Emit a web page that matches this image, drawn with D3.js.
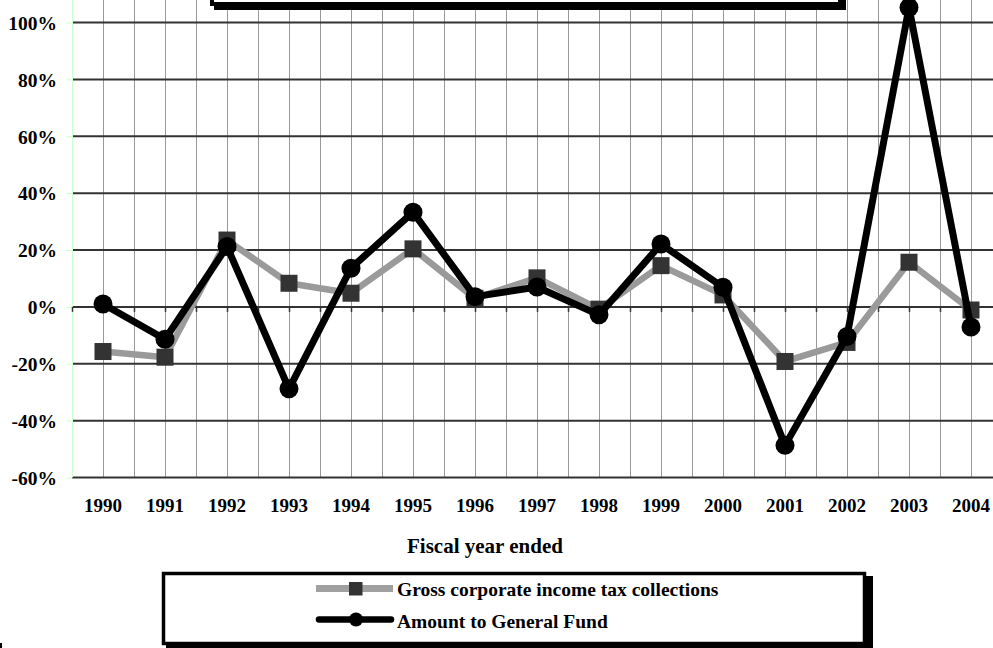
<!DOCTYPE html>
<html>
<head>
<meta charset="utf-8">
<script src="https://cdn.jsdelivr.net/npm/d3@7/dist/d3.min.js"></script>
<style>
  html, body { margin: 0; padding: 0; background: #fff; }
  svg { display: block; }
  svg text { font-family: "Liberation Serif", "Tinos", "Times New Roman", "Nimbus Roman", "DejaVu Serif", serif !important; font-weight: bold !important; fill: #000; }
</style>
</head>
<body>
<svg id="chart" width="993" height="648" font-family="Liberation Serif, Times New Roman, serif"></svg>
<script>
const years = ["1990","1991","1992","1993","1994","1995","1996","1997","1998","1999","2000","2001","2002","2003","2004"];
const grossCollections = [-15.7, -17.7, 23.5, 8.3, 4.8, 20.4, 3.0, 10.2, -0.8, 14.5, 4.2, -19.2, -12.5, 15.7, -1.1];
const generalFund = [1.0, -11.4, 21.2, -28.8, 13.6, 33.3, 3.6, 7.0, -2.8, 22.1, 6.9, -48.7, -10.4, 105.3, -7.1];
const yTicks = [-60, -40, -20, 0, 20, 40, 60, 80, 100];
const seriesNames = ["Gross corporate income tax collections", "Amount to General Fund"];
const xTitle = "Fiscal year ended";

const FONT = "'Liberation Serif', 'Tinos', 'Times New Roman', 'DejaVu Serif', serif";
const svg = d3.select("#chart");
const left = 72, right = 1002, yBottom = 477.5, yTop = 22.5;

const x = d3.scaleBand().domain(years).range([left, right]).paddingInner(0).paddingOuter(0);
const bw = x.bandwidth();
const cx = d => x(d) + bw / 2;
const y = d3.scaleLinear().domain([-60, 100]).range([yBottom, yTop]);

// vertical gridlines (band edges and centers)
const vlines = [];
years.forEach(yr => { vlines.push(x(yr)); vlines.push(cx(yr)); });
vlines.push(right);
svg.append("g").selectAll("line").data(vlines.filter(v => v > left)).join("line")
  .attr("x1", d => d + 0.5).attr("x2", d => d + 0.5)
  .attr("y1", -40).attr("y2", yBottom)
  .attr("stroke", "#999").attr("stroke-width", 1);

// Title box remnant at top (with shadow)
svg.append("rect").attr("x", 214).attr("y", -60).attr("width", 632).attr("height", 70).attr("fill", "#000");
svg.append("rect").attr("x", 212).attr("y", -60).attr("width", 628).attr("height", 64)
  .attr("fill", "#fff").attr("stroke", "#000").attr("stroke-width", 4);

// horizontal gridlines
svg.append("g").selectAll("line").data(yTicks).join("line")
  .attr("x1", left).attr("x2", right)
  .attr("y1", d => y(d)).attr("y2", d => y(d))
  .attr("stroke", "#333").attr("stroke-width", 2);

// y axis (light green) with ticks
const yAxis = d3.axisLeft(y).tickValues(yTicks).tickSize(6).tickFormat(d => d + "%");
const ya = svg.append("g").attr("transform", `translate(${left},0)`).call(yAxis)
  .attr("font-family", FONT).attr("font-size", 19.5);
ya.select(".domain").attr("stroke", "#ccffcc").attr("d", `M0.5,-40V${yBottom}`);
ya.selectAll(".tick line").attr("stroke", "#ccffcc");
ya.selectAll(".tick text")
  .attr("x", -15).attr("dy", "0.35em")
  .attr("font-family", FONT).attr("font-weight", "bold").attr("font-size", 19.5).attr("fill", "#000");

// x axis ticks on 0% line
svg.append("g").selectAll("line").data(vlines).join("line")
  .attr("x1", d => d + 0.5).attr("x2", d => d + 0.5)
  .attr("y1", y(0)).attr("y2", y(0) + 5)
  .attr("stroke", "#333").attr("stroke-width", 1.5);

// x labels
svg.append("g").selectAll("text").data(years).join("text")
  .attr("x", d => cx(d)).attr("y", 512)
  .attr("text-anchor", "middle").attr("font-family", FONT).attr("font-weight", "bold").attr("font-size", 19)
  .text(d => d);

// x title
svg.append("text").attr("x", 485).attr("y", 553).attr("text-anchor", "middle")
  .attr("font-family", FONT).attr("font-weight", "bold").attr("font-size", 21).text(xTitle);

// series
const line = d3.line().x((d, i) => cx(years[i])).y(d => y(d));
svg.append("path").datum(grossCollections).attr("d", line)
  .attr("fill", "none").attr("stroke", "#9a9a9a").attr("stroke-width", 6.5).attr("stroke-linejoin", "round");
svg.append("g").selectAll("rect").data(grossCollections).join("rect")
  .attr("x", (d, i) => cx(years[i]) - 8.5).attr("y", d => y(d) - 8.5)
  .attr("width", 17).attr("height", 17).attr("fill", "#333");

svg.append("path").datum(generalFund).attr("d", line)
  .attr("fill", "none").attr("stroke", "#000").attr("stroke-width", 7).attr("stroke-linejoin", "round");
svg.append("g").selectAll("circle").data(generalFund).join("circle")
  .attr("cx", (d, i) => cx(years[i])).attr("cy", d => y(d))
  .attr("r", 9.5).attr("fill", "#000");

// Legend box
svg.append("rect").attr("x", 166).attr("y", 576).attr("width", 707).attr("height", 73).attr("fill", "#000");
svg.append("rect").attr("x", 163.5).attr("y", 573.5).attr("width", 701).attr("height", 70)
  .attr("fill", "#fff").attr("stroke", "#000").attr("stroke-width", 3.5);

const lg = svg.append("g").attr("font-family", FONT).attr("font-weight", "bold").attr("font-size", 19.5);
// entry 1
lg.append("line").attr("x1", 316).attr("x2", 393).attr("y1", 588.5).attr("y2", 588.5)
  .attr("stroke", "#a0a0a0").attr("stroke-width", 7);
lg.append("rect").attr("x", 349).attr("y", 582).attr("width", 13.5).attr("height", 13.5).attr("fill", "#333");
lg.append("text").attr("x", 397).attr("y", 596).text(seriesNames[0]);
// entry 2
lg.append("line").attr("x1", 319).attr("x2", 391).attr("y1", 619.5).attr("y2", 619.5)
  .attr("stroke", "#000").attr("stroke-width", 6.5).attr("stroke-linecap", "round");
lg.append("circle").attr("cx", 356).attr("cy", 619.5).attr("r", 7).attr("fill", "#000");
lg.append("text").attr("x", 397).attr("y", 628).text(seriesNames[1]);

// small corner mark bottom-left
svg.append("rect").attr("x", 0).attr("y", 643).attr("width", 2).attr("height", 5).attr("fill", "#000");
</script>
</body>
</html>
